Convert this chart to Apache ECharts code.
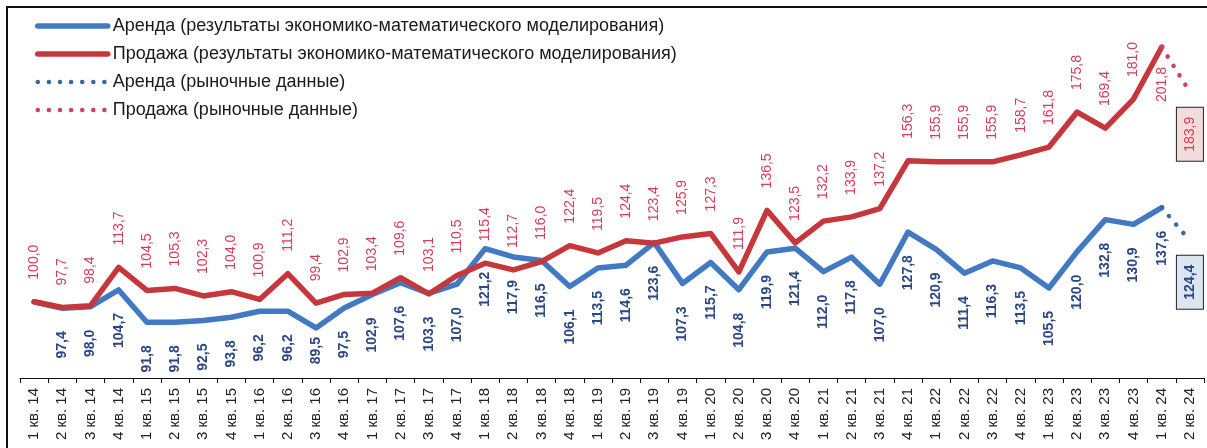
<!DOCTYPE html>
<html>
<head>
<meta charset="utf-8">
<script src="https://cdn.jsdelivr.net/npm/echarts@6/dist/echarts.min.js"></script>
<style>html,body{margin:0;padding:0;background:#fff;}#c{width:1207px;height:448px;}</style>
</head>
<body>
<div id="c"></div>
<script>
const categories = [
  '1 кв. 14','2 кв. 14','3 кв. 14','4 кв. 14',
  '1 кв. 15','2 кв. 15','3 кв. 15','4 кв. 15',
  '1 кв. 16','2 кв. 16','3 кв. 16','4 кв. 16',
  '1 кв. 17','2 кв. 17','3 кв. 17','4 кв. 17',
  '1 кв. 18','2 кв. 18','3 кв. 18','4 кв. 18',
  '1 кв. 19','2 кв. 19','3 кв. 19','4 кв. 19',
  '1 кв. 20','2 кв. 20','3 кв. 20','4 кв. 20',
  '1 кв. 21','2 кв. 21','3 кв. 21','4 кв. 21',
  '1 кв. 22','2 кв. 22','3 кв. 22','4 кв. 22',
  '1 кв. 23','2 кв. 23','3 кв. 23','4 кв. 23',
  '1 кв. 24','2 кв. 24'
];
// model results (through 1 кв. 24)
const rentModel = [100.0, 97.4, 98.0, 104.7, 91.8, 91.8, 92.5, 93.8, 96.2, 96.2, 89.5, 97.5,
  102.9, 107.6, 103.3, 107.0, 121.2, 117.9, 116.5, 106.1, 113.5, 114.6, 123.6, 107.3,
  115.7, 104.8, 119.9, 121.4, 112.0, 117.8, 107.0, 127.8, 120.9, 111.4, 116.3, 113.5,
  105.5, 120.0, 132.8, 130.9, 137.6];
const saleModel = [100.0, 97.7, 98.4, 113.7, 104.5, 105.3, 102.3, 104.0, 100.9, 111.2, 99.4, 102.9,
  103.4, 109.6, 103.1, 110.5, 115.4, 112.7, 116.0, 122.4, 119.5, 124.4, 123.4, 125.9,
  127.3, 111.9, 136.5, 123.5, 132.2, 133.9, 137.2, 156.3, 155.9, 155.9, 155.9, 158.7,
  161.8, 175.8, 169.4, 181.0, 201.8];
// market data (2 кв. 24)
const rentMarket = [124.4];
const saleMarket = [183.9];

const seriesNames = [
  'Аренда (результаты экономико-математического моделирования)',
  'Продажа (результаты экономико-математического моделирования)',
  'Аренда (рыночные данные)',
  'Продажа (рыночные данные)'
];

const FONT = '"Liberation Sans", Arial, sans-serif';
const fmt = p => p.value.toFixed(1).replace('.', ',');
const BLUE = '#4179c2', RED = '#c6373b', BLUE_DOT = '#3d66a3', RED_DOT = '#d2405e';
const BLUE_TXT = '#2b4784', RED_TXT = '#d63c58';

function marketData(model, market) {
  const d = categories.map(() => null);
  d[model.length - 1] = {value: model[model.length - 1], label: {show: false}};
  market.forEach((v, i) => { d[model.length + i] = v; });
  return d;
}

const saleModelData = saleModel.map((v, i) => i === saleModel.length - 1
  ? {value: v, label: {position: 'bottom', align: 'right', distance: 20}} : v);
const rentModelData = rentModel.map((v, i) => {
  if (i === 0) return {value: v, label: {show: false}};
  if (i === 10) return {value: v, label: {distance: 9}};
  return v;
});

const hiddenSym = {symbol: 'circle', symbolSize: 0.01, showSymbol: true, showAllSymbol: true};

const chart = echarts.init(document.getElementById('c'), null, {renderer: 'canvas'});
chart.setOption({
  animation: false,
  backgroundColor: '#fff',
  textStyle: {fontFamily: FONT},
  graphic: [{
    type: 'rect', silent: true, z: 100,
    shape: {x: 7, y: 7, width: 1230, height: 470},
    style: {fill: 'none', stroke: '#111', lineWidth: 2}
  }],
  legend: {
    orient: 'vertical', left: 30, top: 12,
    itemWidth: 70, itemHeight: 14, itemGap: 10,
    data: seriesNames,
    itemStyle: {opacity: 0},
    lineStyle: {width: 'inherit', type: 'inherit', cap: 'inherit'},
    textStyle: {fontFamily: FONT, fontSize: 18, color: '#1a1a1a'}
  },
  grid: {left: 20, right: 3, top: 1.5, bottom: 70, containLabel: false},
  xAxis: {
    type: 'category', data: categories, boundaryGap: true,
    axisLine: {lineStyle: {color: '#111', width: 1}},
    axisTick: {show: true, length: 5, interval: 0, lineStyle: {color: '#111'}},
    axisLabel: {interval: 0, rotate: 90, margin: 10, fontSize: 15, color: '#222', fontFamily: FONT}
  },
  yAxis: {type: 'value', min: 69.5, max: 220, show: false, splitLine: {show: false}},
  series: [
    Object.assign({
      name: seriesNames[0], type: 'line', data: rentModelData, z: 2,
      lineStyle: {color: BLUE, width: 5.5, cap: 'round', join: 'round'}, itemStyle: {color: BLUE},
      label: {show: true, position: 'bottom', distance: 23, rotate: 90, align: 'right', verticalAlign: 'middle',
        formatter: fmt, color: BLUE_TXT, fontSize: 14, fontWeight: 'bold', fontFamily: FONT}
    }, hiddenSym),
    Object.assign({
      name: seriesNames[1], type: 'line', data: saleModelData, z: 3,
      lineStyle: {color: RED, width: 5.5, cap: 'round', join: 'round'}, itemStyle: {color: RED},
      label: {show: true, position: 'top', distance: 22, rotate: 90, align: 'left', verticalAlign: 'middle',
        formatter: fmt, color: RED_TXT, fontSize: 14, fontFamily: FONT}
    }, hiddenSym),
    Object.assign({
      name: seriesNames[2], type: 'line', data: marketData(rentModel, rentMarket), z: 2,
      connectNulls: false,
      lineStyle: {color: BLUE_DOT, width: 4.5, type: [0.1, 11], cap: 'round'}, itemStyle: {color: BLUE_DOT},
      label: {show: true, position: 'bottom', distance: 15, rotate: 90, align: 'right', verticalAlign: 'middle',
        formatter: fmt, color: BLUE_TXT, fontSize: 14, fontWeight: 'bold', fontFamily: FONT,
        backgroundColor: '#dce6f2', borderColor: '#222', borderWidth: 1, padding: [6, 9, 6, 9]}
    }, hiddenSym),
    Object.assign({
      name: seriesNames[3], type: 'line', data: marketData(saleModel, saleMarket), z: 3,
      connectNulls: false,
      lineStyle: {color: RED_DOT, width: 4.5, type: [0.1, 11], cap: 'round'}, itemStyle: {color: RED_DOT},
      label: {show: true, position: 'bottom', distance: 16, rotate: 90, align: 'right', verticalAlign: 'middle',
        formatter: fmt, color: RED_TXT, fontSize: 14, fontFamily: FONT,
        backgroundColor: '#f2dcdb', borderColor: '#222', borderWidth: 1, padding: [6, 9, 6, 9]}
    }, hiddenSym)
  ]
});
</script>
</body>
</html>
